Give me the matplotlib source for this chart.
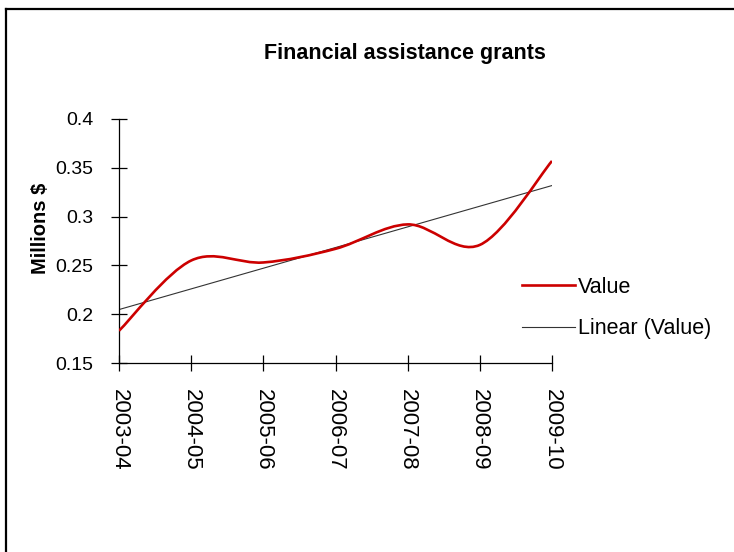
import numpy as np
import matplotlib
matplotlib.use("Agg")
import matplotlib.pyplot as plt
from matplotlib.path import Path
from matplotlib.patches import PathPatch
from matplotlib.lines import Line2D

plt.rcParams['font.family'] = ['Liberation Sans', 'DejaVu Sans']

# data
years = ['2003-04', '2004-05', '2005-06', '2006-07', '2007-08', '2008-09', '2009-10']
values = [0.183, 0.255, 0.253, 0.267, 0.292, 0.271, 0.357]
y_ticks = [0.15, 0.2, 0.25, 0.3, 0.35, 0.4]
y_tick_labels = ['0.15', '0.2', '0.25', '0.3', '0.35', '0.4']

x = np.arange(len(years))
y = np.array(values)

W, H = 734, 552
fig = plt.figure(figsize=(W / 100, H / 100), dpi=100)
ax = fig.add_axes([119 / W, 1 - 363 / H, (552 - 119) / W, (363 - 119) / H])

# smoothed line (catmull-rom as cubic bezier, like excel "smoothed line")
px = np.concatenate([[x[0]], x, [x[-1]]])
py = np.concatenate([[y[0]], y, [y[-1]]])
verts = [(x[0], y[0])]
codes = [Path.MOVETO]
for i in range(1, len(px) - 2):
    c1 = (px[i] + (px[i + 1] - px[i - 1]) / 6, py[i] + (py[i + 1] - py[i - 1]) / 6)
    c2 = (px[i + 1] - (px[i + 2] - px[i]) / 6, py[i + 1] - (py[i + 2] - py[i]) / 6)
    verts += [c1, c2, (px[i + 1], py[i + 1])]
    codes += [Path.CURVE4] * 3
red = '#CC0000'
ax.add_patch(PathPatch(Path(verts, codes), fill=False, edgecolor=red, lw=1.9, zorder=3))

# linear trendline
slope, icpt = np.polyfit(x, y, 1)
ax.plot(x, slope * x + icpt, color='#333333', lw=0.8, zorder=2)

ax.set_xlim(0, 6)
ax.set_ylim(0.15, 0.4)
ax.set_xticks(x)
ax.set_xticklabels(years, rotation=270, ha='center', va='top', fontsize=16)
ax.set_yticks(y_ticks)
ax.set_yticklabels(y_tick_labels, fontsize=14)
ax.tick_params(direction='inout', length=11, width=0.9, pad=13, color='black')
for s in ['top', 'right']:
    ax.spines[s].set_visible(False)
for s in ['left', 'bottom']:
    ax.spines[s].set_linewidth(0.9)

ax.text(-0.182, 0.553, 'Millions $', rotation=90, fontsize=14.5, fontweight='bold',
        ha='center', va='center', transform=ax.transAxes)

fig.text(405 / W, 1 - 53 / H, 'Financial assistance grants', fontsize=15.5,
         fontweight='bold', ha='center', va='center')

handles = [Line2D([], [], color=red, lw=1.9), Line2D([], [], color='#333333', lw=0.8)]
fig.legend(handles, ['Value', 'Linear (Value)'], loc='center left',
           bbox_to_anchor=(522 / W, 1 - 308 / H), frameon=False, fontsize=15.5,
           borderpad=0, borderaxespad=0, handlelength=2.47, handletextpad=0.14,
           labelspacing=0.96)

# chart border (left and top edges visible)
fig.add_artist(Line2D([6 / W, 6 / W], [0, 1 - 9 / H], color='black', lw=1.6,
                      transform=fig.transFigure))
fig.add_artist(Line2D([6 / W, 1], [1 - 9 / H, 1 - 9 / H], color='black', lw=1.6,
                      transform=fig.transFigure))

fig.savefig('out.png', dpi=100)
